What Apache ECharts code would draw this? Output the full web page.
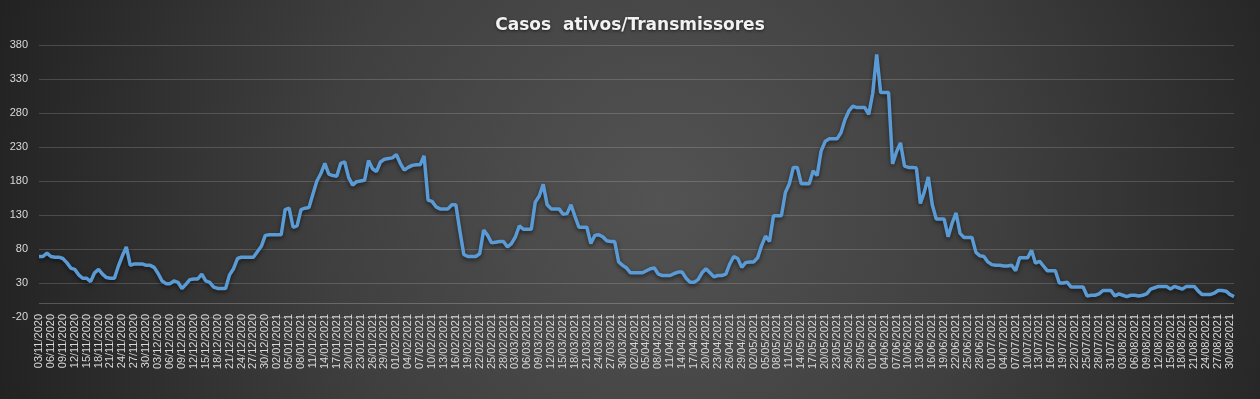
<!DOCTYPE html>
<html>
<head>
<meta charset="utf-8">
<script src="https://cdn.jsdelivr.net/npm/echarts@6/dist/echarts.min.js"></script>
<style>
html,body{margin:0;padding:0;background:#262626;}
#chart{width:1260px;height:399px;}
</style>
</head>
<body>
<div id="chart"></div>
<script>
// Daily values, 03/11/2020 .. 31/08/2021
const nov2020 = [69,69,74,69,68,68,66,60,52,50,42,37,37,32,45,50,43,38,37,37,55,70,83,56,58,58,58,56];
const dec2020 = [56,53,44,33,29,29,33,31,22,28,35,36,36,43,33,31,24,22,22,22,42,51,66,68,68,68,68,76,84,100,101];
const jan2021 = [101,101,101,138,140,112,114,138,140,141,161,180,191,206,190,188,187,206,208,185,174,179,180,181,210,198,194,208,212,213,214];
const feb2021 = [219,206,196,200,203,204,204,217,152,150,142,139,139,139,145,145,107,72,69,69,69,73,108,100,89,90,91,91];
const mar2021 = [83,88,98,114,109,109,109,149,158,175,145,139,139,139,131,132,145,128,112,112,112,88,100,101,98,92,91,91,61,56,52];
const apr2021 = [45,45,45,45,48,51,52,43,41,41,41,44,46,46,37,31,31,35,45,51,45,39,41,41,43,58,69,66,53,60];
const may2021 = [61,61,67,85,99,91,129,129,129,163,176,200,200,176,176,176,195,188,224,238,242,242,242,251,270,283,290,288,288,288,278];
const jun2021 = [309,366,310,310,310,205,223,236,202,200,200,199,147,164,186,145,124,124,124,98,118,133,103,97,97,97,75,70,69,61];
const jul2021 = [57,56,56,55,55,56,48,67,67,67,78,59,62,55,48,48,48,30,30,31,24,24,24,24,11,12,12,14,19,19,19];
const aug2021 = [11,14,12,10,12,12,11,12,14,21,23,25,25,25,21,25,23,21,25,25,25,18,13,13,13,15,19,19,18,13,10];

const values = [].concat(nov2020, dec2020, jan2021, feb2021, mar2021, apr2021, may2021, jun2021, jul2021, aug2021);

// Category labels: consecutive dates starting 03/11/2020
const startDate = [2020, 11, 3];
const categories = [];
for (let k = 0; k < values.length; k++) {
  const d = new Date(Date.UTC(startDate[0], startDate[1] - 1, startDate[2] + k));
  const dd = String(d.getUTCDate()).padStart(2, '0');
  const mm = String(d.getUTCMonth() + 1).padStart(2, '0');
  categories.push(dd + '/' + mm + '/' + d.getUTCFullYear());
}

const yTicks = { min: -20, max: 380, interval: 50 };
const titleText = 'Casos  ativos/Transmissores';

const chart = echarts.init(document.getElementById('chart'), null, { renderer: 'canvas' });
chart.setOption({
  animation: false,
  backgroundColor: {
    type: 'radial', x: 660, y: 200, r: 760, global: true,
    colorStops: [
      { offset: 0, color: '#535353' },
      { offset: 0.45, color: '#3f3f3f' },
      { offset: 1, color: '#1c1c1c' }
    ]
  },
  title: {
    text: titleText,
    left: 'center',
    top: 12,
    textStyle: {
      color: '#f2f2f2',
      fontSize: 17,
      fontWeight: 'bold',
      fontFamily: 'DejaVu Sans',
      textShadowColor: 'rgba(0,0,0,0.6)',
      textShadowBlur: 3,
      textShadowOffsetY: 1
    }
  },
  grid: { left: 39, right: 26, top: 45, bottom: 82, containLabel: false },
  xAxis: {
    type: 'category',
    boundaryGap: false,
    data: categories,
    axisLine: { show: false },
    axisTick: { show: false },
    splitLine: { show: false },
    axisLabel: {
      rotate: 90,
      interval: function (idx) { return idx % 3 === 0; },
      color: '#d9d9d9',
      fontSize: 11,
      fontFamily: 'Liberation Sans',
      margin: -3
    }
  },
  yAxis: {
    type: 'value',
    min: yTicks.min,
    max: yTicks.max,
    interval: yTicks.interval,
    axisLine: { show: false },
    axisTick: { show: false },
    splitLine: { lineStyle: { color: 'rgba(255,255,255,0.16)', width: 1 } },
    axisLabel: { color: '#d9d9d9', fontSize: 11, fontFamily: 'Liberation Sans', margin: 11 }
  },
  series: [{
    type: 'line',
    data: values,
    showSymbol: false,
    symbol: 'none',
    lineStyle: {
      color: '#5b9bd5',
      width: 3.5,
      shadowColor: 'rgba(0,0,0,0.55)',
      shadowBlur: 4,
      shadowOffsetY: 2
    },
    markLine: {
      silent: true,
      symbol: 'none',
      label: { show: false },
      lineStyle: { color: 'rgba(255,255,255,0.22)', type: 'solid', width: 1 },
      data: [{ yAxis: 0 }]
    }
  }]
});
</script>
</body>
</html>
